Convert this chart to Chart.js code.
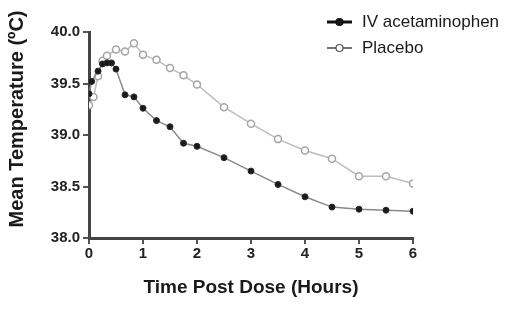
<!DOCTYPE html>
<html>
<head>
<meta charset="utf-8">
<script src="https://cdn.jsdelivr.net/npm/chart.js@4/dist/chart.umd.min.js"></script>
<style>
  html, body { margin: 0; padding: 0; background: #fff; }
  #wrap { width: 522px; height: 323px; position: relative; }
</style>
</head>
<body>
<div id="wrap"><canvas id="c" width="522" height="323"></canvas></div>
<script>
// Time points (hours)
const acetTimes = [0, 0.05, 0.167, 0.25, 0.333, 0.417, 0.5, 0.667, 0.833, 1, 1.25, 1.5, 1.75, 2, 2.5, 3, 3.5, 4, 4.5, 5, 5.5, 6];
const acetTemps = [39.40, 39.52, 39.62, 39.69, 39.70, 39.70, 39.64, 39.39, 39.37, 39.26, 39.14, 39.08, 38.92, 38.89, 38.78, 38.65, 38.52, 38.40, 38.30, 38.28, 38.27, 38.26];

const placTimes = [0, 0.083, 0.167, 0.25, 0.333, 0.5, 0.667, 0.833, 1, 1.25, 1.5, 1.75, 2, 2.5, 3, 3.5, 4, 4.5, 5, 5.5, 6];
const placTemps = [39.29, 39.37, 39.57, 39.72, 39.77, 39.83, 39.81, 39.89, 39.78, 39.73, 39.65, 39.58, 39.49, 39.27, 39.11, 38.96, 38.85, 38.77, 38.60, 38.60, 38.53];

const seriesLabels = ['IV acetaminophen', 'Placebo'];
const xTicks = [0, 1, 2, 3, 4, 5, 6];
const yTicks = [38.0, 38.5, 39.0, 39.5, 40.0];
const xTitle = 'Time Post Dose (Hours)';
const yTitle = 'Mean Temperature (ºC)';

const FONT = '"Liberation Sans", Arial, sans-serif';
const toPts = (xs, ys) => xs.map((x, i) => ({ x: x, y: ys[i] }));

const legendPlugin = {
  id: 'customLegend',
  afterDraw(chart) {
    const ctx = chart.ctx;
    const x0 = 327, x1 = 352, tx = 362;
    const rows = [22, 48];
    ctx.save();
    chart.data.datasets.forEach((ds, i) => {
      const y = rows[i];
      ctx.beginPath();
      ctx.strokeStyle = i === 0 ? '#111' : '#444';
      ctx.lineWidth = i === 0 ? 3 : 1.5;
      ctx.moveTo(x0, y); ctx.lineTo(x1, y);
      ctx.stroke();
      ctx.beginPath();
      ctx.arc((x0 + x1) / 2, y, 3.5, 0, Math.PI * 2);
      ctx.fillStyle = ds.pointBackgroundColor;
      ctx.fill();
      ctx.lineWidth = 1.2;
      ctx.strokeStyle = i === 0 ? '#111' : '#555';
      ctx.stroke();
      ctx.fillStyle = '#1a1a1a';
      ctx.font = '17px ' + FONT;
      ctx.textBaseline = 'middle';
      ctx.textAlign = 'left';
      ctx.fillText(ds.label, tx, y);
    });
    // y-axis title
    ctx.translate(17, 119);
    ctx.rotate(-Math.PI / 2);
    ctx.font = 'bold 20px ' + FONT;
    ctx.fillStyle = '#1a1a1a';
    ctx.textAlign = 'center';
    ctx.textBaseline = 'middle';
    ctx.fillText(yTitle, 0, 0);
    ctx.restore();
  }
};

new Chart(document.getElementById('c'), {
  type: 'line',
  data: {
    datasets: [
      {
        label: seriesLabels[0],
        data: toPts(acetTimes, acetTemps),
        borderColor: '#8a8a8a',
        borderWidth: 1.5,
        pointBackgroundColor: '#1a1a1a',
        pointBorderColor: '#2a2a2a',
        pointBorderWidth: 1,
        pointRadius: 3,
        tension: 0,
        order: 1
      },
      {
        label: seriesLabels[1],
        data: toPts(placTimes, placTemps),
        borderColor: '#bdbdbd',
        borderWidth: 1.5,
        pointBackgroundColor: '#ffffff',
        pointBorderColor: '#a5a5a5',
        pointBorderWidth: 1.5,
        pointRadius: 3.5,
        tension: 0,
        order: 2
      }
    ]
  },
  options: {
    responsive: false,
    animation: false,
    events: [],
    layout: { padding: { top: 32, right: 109, bottom: 0, left: 0 } },
    plugins: {
      legend: { display: false },
      tooltip: { enabled: false }
    },
    scales: {
      x: {
        type: 'linear',
        min: 0, max: 6,
        afterBuildTicks: s => { s.ticks = xTicks.map(v => ({ value: v })); },
        afterFit: s => { s.height = 85; },
        grid: { display: true, drawOnChartArea: false, drawTicks: true, tickLength: 6, color: '#555', lineWidth: 2 },
        border: { display: true, color: '#444', width: 3 },
        ticks: {
          padding: 1,
          color: '#222',
          font: { family: FONT, size: 15, weight: 'bold' },
          callback: v => String(v)
        },
        title: {
          display: true,
          text: xTitle,
          color: '#1a1a1a',
          font: { family: FONT, size: 19, weight: 'bold' },
          padding: { top: 0, bottom: 24 }
        }
      },
      y: {
        type: 'linear',
        min: 38, max: 40,
        afterBuildTicks: s => { s.ticks = yTicks.map(v => ({ value: v })); },
        afterFit: s => { s.width = 89; },
        grid: { display: true, drawOnChartArea: false, drawTicks: true, tickLength: 6, color: '#555', lineWidth: 2 },
        border: { display: true, color: '#444', width: 3 },
        ticks: {
          padding: 3,
          color: '#222',
          font: { family: FONT, size: 15, weight: 'bold' },
          callback: v => Number(v).toFixed(1)
        },
        title: { display: false }
      }
    }
  },
  plugins: [legendPlugin]
});
</script>
</body>
</html>
